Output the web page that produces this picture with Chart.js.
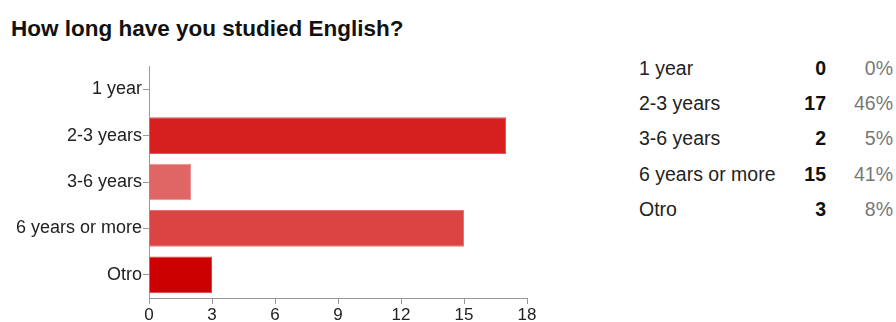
<!DOCTYPE html>
<html>
<head>
<meta charset="utf-8">
<script src="https://cdn.jsdelivr.net/npm/chart.js@4"></script>
<style>
  html, body { margin: 0; padding: 0; background: #fff; }
  body { width: 896px; height: 322px; position: relative; overflow: hidden; font-family: "Liberation Sans", Arial, sans-serif; }
  #titulo { position: absolute; left: 11px; top: 16px; font-size: 22.5px; font-weight: bold; color: #111; white-space: nowrap; }
  #grafico-wrap { position: absolute; left: 0; top: 0; width: 560px; height: 322px; }
  #tabela { position: absolute; left: 639px; top: 51px; border-collapse: collapse; font-size: 19.5px; }
  #tabela td { height: 35.2px; padding: 0; white-space: nowrap; }
  #tabela td.cat { width: 148px; color: #222; }
  #tabela td.qtd { width: 39px; text-align: right; font-weight: bold; color: #111; }
  #tabela td.pct { width: 67px; text-align: right; color: #777; }
</style>
</head>
<body>
<div id="titulo">How long have you studied English?</div>
<div id="grafico-wrap"><canvas id="grafico"></canvas></div>
<table id="tabela"></table>
<script>
// dados
const categorias = ['1 year', '2-3 years', '3-6 years', '6 years or more', 'Otro'];
const respostas = [0, 17, 2, 15, 3];
const coresBarras = ['#d62020', '#d62020', '#e06666', '#dc4444', '#cc0000'];
const bordasBarras = ['#e05a5a', '#e05a5a', '#eb9090', '#e67474', '#d94040'];
const ticksX = [0, 3, 6, 9, 12, 15, 18];

// tabela da direita
const total = respostas.reduce((a, b) => a + b, 0);
const tabela = document.getElementById('tabela');
categorias.forEach((cat, i) => {
    const tr = document.createElement('tr');
    const pct = Math.round(respostas[i] / total * 100) + '%';
    tr.innerHTML = '<td class="cat">' + cat + '</td><td class="qtd">' + respostas[i] + '</td><td class="pct">' + pct + '</td>';
    tabela.appendChild(tr);
});

const ctx = document.getElementById('grafico').getContext('2d');
new Chart(ctx, {
    type: 'bar',
    data: {
        labels: categorias,
        datasets: [{
            data: respostas,
            backgroundColor: coresBarras,
            borderColor: bordasBarras,
            borderWidth: 1,
            borderSkipped: 'start',
            barPercentage: 0.79,
            categoryPercentage: 1.0
        }]
    },
    options: {
        indexAxis: 'y',
        responsive: true,
        maintainAspectRatio: false,
        animation: false,
        layout: { padding: { top: 66, right: 33, left: 0, bottom: 0 } },
        plugins: { legend: { display: false }, tooltip: { enabled: false } },
        scales: {
            x: {
                min: ticksX[0],
                max: ticksX[ticksX.length - 1],
                afterBuildTicks: (s) => { s.ticks = ticksX.map(v => ({ value: v })); },
                afterFit: (s) => { s.height = 24; },
                grid: { drawOnChartArea: false, drawTicks: true, tickLength: 6, color: '#999' },
                border: { display: true, color: '#999' },
                ticks: { padding: 1, color: '#222', font: { family: 'Liberation Sans', size: 17 } }
            },
            y: {
                afterFit: (s) => { s.width = 149; },
                grid: { drawOnChartArea: false, drawTicks: true, tickLength: 6, color: '#999', offset: false },
                border: { display: true, color: '#999' },
                ticks: { padding: 1, color: '#222', font: { family: 'Liberation Sans', size: 18 } }
            }
        }
    }
});
</script>
</body>
</html>
